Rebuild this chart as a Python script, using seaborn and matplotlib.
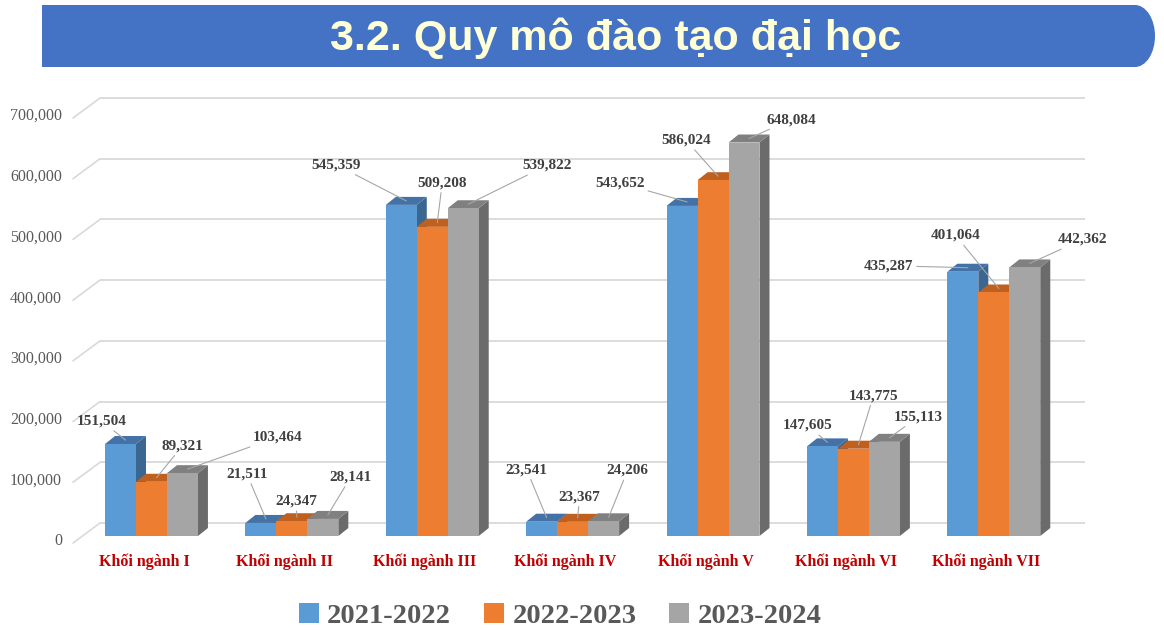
import numpy as np
import pandas as pd
import seaborn as sns
import matplotlib
matplotlib.use("Agg")
import matplotlib.pyplot as plt
from matplotlib import transforms as mtrans
from matplotlib.patches import Polygon, Rectangle, Ellipse

# ---------------- data ----------------
categories = ["Khối ngành I", "Khối ngành II", "Khối ngành III", "Khối ngành IV",
              "Khối ngành V", "Khối ngành VI", "Khối ngành VII"]
years = ["2021-2022", "2022-2023", "2023-2024"]
v2122 = [151504, 21511, 545359, 23541, 543652, 147605, 435287]
v2223 = [89321, 24347, 509208, 23367, 586024, 143775, 401064]
v2324 = [103464, 28141, 539822, 24206, 648084, 155113, 442362]
yticks = [0, 100000, 200000, 300000, 400000, 500000, 600000, 700000]
title = "3.2. Quy mô đào tạo đại học"

# ---------------- style / layout ----------------
front_cols = ["#5B9BD5", "#ED7D31", "#A5A5A5"]
top_cols = ["#4472A6", "#C0601F", "#808080"]
side_cols = ["#3A6690", "#AE561B", "#6B6B6B"]
# label offsets (pixels, image coords) from bar front-top centre
label_off = [
    [(-19, -23), (-14, -49), (-65, -40), (-15, -52), (-62, -23), (-15, -21), (-74, -6)],
    [(31, -36), (4, -20), (10, -44), (7, -25), (-27, -40), (20, -53), (-38, -57)],
    [(95, -36), (28, -42), (84, -43), (24, -51), (47, -23), (34, -25), (58, -28)],
]
SERIF = ["Liberation Serif", "DejaVu Serif"]
SANS = ["Liberation Sans", "DejaVu Sans"]

sns.set_theme(style="white")
plt.rcParams["font.family"] = SERIF

W, H = 1164, 630
fig = plt.figure(figsize=(W / 100, H / 100), dpi=100)
fig.patch.set_facecolor("white")

# banner
axb = fig.add_axes([0, 0, 1, 1], zorder=0)
axb.set_xlim(0, W)
axb.set_ylim(H, 0)
axb.axis("off")
axb.add_patch(Rectangle((42, 5), 1093, 62, facecolor="#4472C4", edgecolor="none"))
axb.add_patch(Ellipse((1135, 36), 40, 62, facecolor="#4472C4", edgecolor="none"))
axb.text(616, 38, title, ha="center", va="center", color="#FFFFD8",
         fontsize=31, fontweight="bold", family=SANS)

# main axes (front plane of bars)
ax_left, ax_right, ax_top, ax_bottom = 73, 1064, 111, 536
ax = fig.add_axes([ax_left / W, 1 - ax_bottom / H, (ax_right - ax_left) / W,
                   (ax_bottom - ax_top) / H], zorder=1)
ax.patch.set_visible(False)

df = pd.DataFrame({
    "Khối": categories * 3,
    "Năm": np.repeat(years, len(categories)),
    "SV": v2122 + v2223 + v2324,
})
sns.barplot(data=df, x="Khối", y="SV", hue="Năm", order=categories, hue_order=years,
            palette=front_cols, width=0.662, saturation=1, legend=False,
            errorbar=None, ax=ax)

xlim = (-0.559, 6.5)
ax.set_xlim(*xlim)
ax.set_ylim(0, 700000)
ax.set_xlabel("")
ax.set_ylabel("")
ax.set_xticks([])
ax.set_yticks([])
for s in ax.spines.values():
    s.set_visible(False)

pxx = (ax_right - ax_left) / (xlim[1] - xlim[0])   # px per x unit
pxy = (ax_bottom - ax_top) / 700000.0             # px per y unit
dx_px, dy_px = 10, 8
dxd, dyd = dx_px / pxx, dy_px / pxy

def off(x, y):
    return ax.transData + mtrans.ScaledTranslation(x / 100, y / 100, fig.dpi_scale_trans)

# back wall gridlines and left connectors
grid_c = "#D9D9D9"
ax.hlines(yticks, xlim[0], xlim[1] - 0.045, colors=grid_c, linewidth=1.3,
          transform=off(27, 13), zorder=1, clip_on=False)
for v in yticks:
    ax.plot([xlim[0], xlim[0] + 27 / pxx], [v, v + 20 / pxy], color=grid_c,
            linewidth=1.2, transform=off(0, -7), zorder=1, clip_on=False)

# y tick labels
ytr = mtrans.blended_transform_factory(ax.transAxes, ax.transData) + \
    mtrans.ScaledTranslation(-11 / 100, -5 / 100, fig.dpi_scale_trans)
for v in yticks:
    ax.text(0, v, f"{v:,}", transform=ytr, ha="right", va="center",
            fontsize=11.5, color="#595959")

# category labels
for i, c in enumerate(categories):
    ax.text(i, 0, c, transform=off(-7.5, -26), ha="center", va="center",
            fontsize=11.5, fontweight="bold", color="#C00000")

# 3D faces
bars = []
for hi, cont in enumerate(ax.containers):
    for ci, b in enumerate(cont):
        bars.append((b.get_x(), hi, ci, b))
bars.sort(key=lambda t: t[0])
for rank, (x, hi, ci, b) in enumerate(bars):
    w = b.get_width()
    h = b.get_height()
    z = 3 + 0.01 * rank
    side = Polygon([(x + w, 0), (x + w, h), (x + w + dxd, h + dyd), (x + w + dxd, dyd)],
                   closed=True, facecolor=side_cols[hi], edgecolor="none", zorder=z)
    top = Polygon([(x, h), (x + w, h), (x + w + dxd, h + dyd), (x + dxd, h + dyd)],
                  closed=True, facecolor=top_cols[hi], edgecolor="none", zorder=z + 0.001)
    ax.add_patch(side)
    ax.add_patch(top)
    b.set_zorder(z + 0.002)
    b.set_edgecolor("none")

# data labels with leader lines
for hi, cont in enumerate(ax.containers):
    for ci, b in enumerate(cont):
        x = b.get_x() + b.get_width() / 2
        h = b.get_height()
        ox, oy = label_off[hi][ci]
        tx = (ox - dx_px / 2) * 0.72
        ty = -(oy + dy_px / 2) * 0.72
        ax.annotate(f"{int(round(h)):,}", xy=(x + dxd / 2, h + dyd / 2), xycoords="data",
                    xytext=(tx, ty), textcoords="offset points",
                    ha="center", va="center", fontsize=11, fontweight="bold",
                    color="#404040", zorder=10, annotation_clip=False,
                    arrowprops=dict(arrowstyle="-", color="#A6A6A6", lw=0.8,
                                    shrinkA=0, shrinkB=0))

# legend
handles = [Rectangle((0, 0), 1, 1, facecolor=c, edgecolor="none") for c in front_cols]
leg = fig.legend(handles, years, loc="center", bbox_to_anchor=(560 / W, 1 - 616 / H),
                 ncol=3, frameon=False, handlelength=0.7, handleheight=0.7,
                 handletextpad=0.3, columnspacing=1.15, borderpad=0.1,
                 prop=dict(family=SERIF, weight="bold", size=20.5))
for t in leg.get_texts():
    t.set_color("#595959")

fig.savefig("out.png", dpi=100, facecolor="white")
